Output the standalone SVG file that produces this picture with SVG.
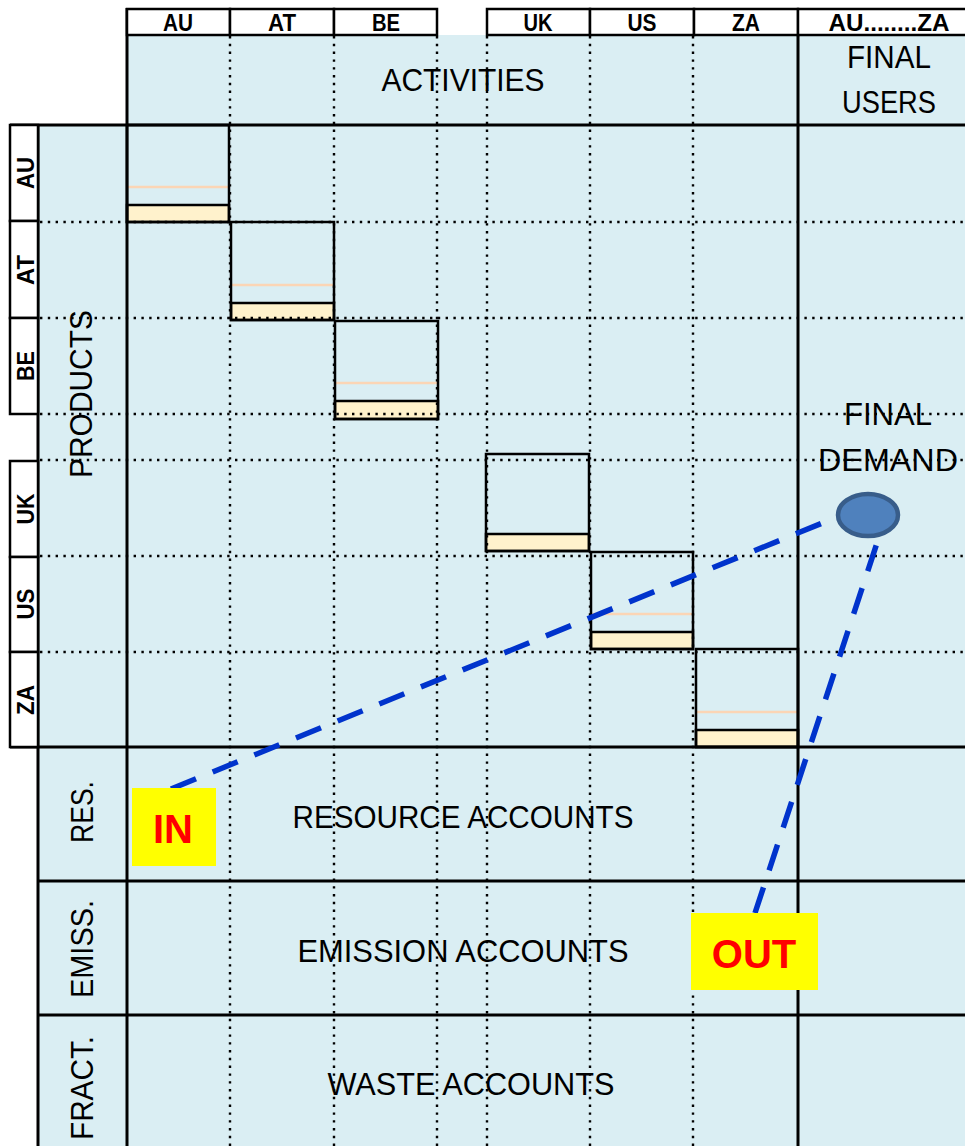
<svg xmlns="http://www.w3.org/2000/svg" width="965" height="1146" viewBox="0 0 965 1146">
<style>
.bg{fill:#daeef3}
.hdr{fill:#ffffff;stroke:#000;stroke-width:2.5}
.thick{stroke:#000;stroke-width:3;fill:none}
.dot{stroke:#000;stroke-width:2.4;stroke-dasharray:2.4 5.4;fill:none}
.blk{fill:none;stroke:#000;stroke-width:2.5}
.bar{fill:#fff2cc;stroke:#000;stroke-width:2.5}
.peach{stroke:#fbd5b5;stroke-width:2.5}
.hl{font-family:"Liberation Sans",Arial,sans-serif;font-weight:bold;font-size:24px;text-anchor:middle;fill:#000}
.big{font-family:"Liberation Sans",Arial,sans-serif;font-size:31px;text-anchor:middle;fill:#000}
.io{font-family:"Liberation Sans",Arial,sans-serif;font-weight:bold;font-size:40px;text-anchor:middle;fill:#ff0000}
.flow{stroke:#0033cc;stroke-width:5.5;stroke-dasharray:27 18;fill:none}
</style>

<!-- background -->
<path class="bg" d="M127,35 H965 V1146 H38 V125 H127 Z"/>

<!-- diagonal blocks (drawn under dotted grid) -->
<g id="block-AU">
<rect class="bar" x="127" y="205" width="102" height="17"/>
<line class="peach" x1="127" y1="187" x2="229" y2="187"/>
<rect class="blk" x="127" y="125" width="102" height="97"/>
</g>
<g id="block-AT">
<rect class="bar" x="231" y="303" width="103" height="17"/>
<line class="peach" x1="231" y1="285" x2="334" y2="285"/>
<rect class="blk" x="231" y="222" width="103" height="98"/>
</g>
<g id="block-BE">
<rect class="bar" x="335" y="401" width="103" height="18"/>
<line class="peach" x1="335" y1="383" x2="438" y2="383"/>
<rect class="blk" x="335" y="321" width="103" height="98"/>
</g>
<g id="block-UK">
<rect class="bar" x="486" y="534" width="103" height="17"/>
<rect class="blk" x="486" y="454" width="103" height="97"/>
</g>
<g id="block-US">
<rect class="bar" x="591" y="632" width="102" height="17"/>
<line class="peach" x1="591" y1="614" x2="693" y2="614"/>
<rect class="blk" x="591" y="552" width="102" height="97"/>
</g>
<g id="block-ZA">
<rect class="bar" x="696" y="730" width="102" height="17"/>
<line class="peach" x1="696" y1="712" x2="798" y2="712"/>
<rect class="blk" x="696" y="649" width="102" height="98"/>
</g>

<!-- dotted grid -->
<g id="grid-dotted">
<line class="dot" x1="230" y1="36" x2="230" y2="1146"/>
<line class="dot" x1="334" y1="36" x2="334" y2="1146"/>
<line class="dot" x1="437" y1="36" x2="437" y2="1146"/>
<line class="dot" x1="487" y1="36" x2="487" y2="1146"/>
<line class="dot" x1="590" y1="36" x2="590" y2="1146"/>
<line class="dot" x1="693" y1="36" x2="693" y2="1146"/>
<line class="dot" x1="40" y1="222" x2="965" y2="222"/>
<line class="dot" x1="40" y1="318" x2="965" y2="318"/>
<line class="dot" x1="40" y1="414" x2="965" y2="414"/>
<line class="dot" x1="40" y1="460" x2="965" y2="460"/>
<line class="dot" x1="40" y1="556" x2="965" y2="556"/>
<line class="dot" x1="40" y1="652" x2="965" y2="652"/>
</g>

<!-- thick structural lines -->
<g id="grid-solid">
<line class="thick" x1="127" y1="8" x2="127" y2="1146"/>
<line class="thick" x1="798" y1="8" x2="798" y2="1146"/>
<line class="thick" x1="38" y1="125" x2="38" y2="1146"/>
<line class="thick" x1="10" y1="125" x2="965" y2="125"/>
<line class="thick" x1="10" y1="747" x2="965" y2="747"/>
<line class="thick" x1="38" y1="881" x2="965" y2="881"/>
<line class="thick" x1="38" y1="1015" x2="965" y2="1015"/>
</g>

<!-- column headers -->
<g id="col-AU"><rect class="hdr" x="127" y="9" width="103" height="26"/><text class="hl" x="178" y="31" textLength="30" lengthAdjust="spacingAndGlyphs">AU</text></g>
<g id="col-AT"><rect class="hdr" x="230" y="9" width="104" height="26"/><text class="hl" x="282" y="31" textLength="28" lengthAdjust="spacingAndGlyphs">AT</text></g>
<g id="col-BE"><rect class="hdr" x="334" y="9" width="103" height="26"/><text class="hl" x="386" y="31" textLength="28" lengthAdjust="spacingAndGlyphs">BE</text></g>
<g id="col-UK"><rect class="hdr" x="487" y="9" width="103" height="26"/><text class="hl" x="538" y="31" textLength="29" lengthAdjust="spacingAndGlyphs">UK</text></g>
<g id="col-US"><rect class="hdr" x="590" y="9" width="104" height="26"/><text class="hl" x="642" y="31" textLength="29" lengthAdjust="spacingAndGlyphs">US</text></g>
<g id="col-ZA"><rect class="hdr" x="694" y="9" width="104" height="26"/><text class="hl" x="746" y="31" textLength="28" lengthAdjust="spacingAndGlyphs">ZA</text></g>
<g id="col-final"><rect class="hdr" x="798" y="9" width="170" height="26"/><text class="hl" x="889" y="31" textLength="121" lengthAdjust="spacingAndGlyphs">AU........ZA</text></g>

<!-- row labels (countries) -->
<g id="row-AU"><rect class="hdr" x="10" y="125" width="28" height="96"/><text class="hl" transform="translate(25,173) rotate(-90)" y="8.5" textLength="32" lengthAdjust="spacingAndGlyphs">AU</text></g>
<g id="row-AT"><rect class="hdr" x="10" y="221" width="28" height="97"/><text class="hl" transform="translate(25,270) rotate(-90)" y="8.5" textLength="30" lengthAdjust="spacingAndGlyphs">AT</text></g>
<g id="row-BE"><rect class="hdr" x="10" y="318" width="28" height="96"/><text class="hl" transform="translate(25,366) rotate(-90)" y="8.5" textLength="30" lengthAdjust="spacingAndGlyphs">BE</text></g>
<g id="row-UK"><rect class="hdr" x="10" y="461" width="28" height="96"/><text class="hl" transform="translate(25,509) rotate(-90)" y="8.5" textLength="31" lengthAdjust="spacingAndGlyphs">UK</text></g>
<g id="row-US"><rect class="hdr" x="10" y="557" width="28" height="95"/><text class="hl" transform="translate(25,604) rotate(-90)" y="8.5" textLength="31" lengthAdjust="spacingAndGlyphs">US</text></g>
<g id="row-ZA"><rect class="hdr" x="10" y="652" width="28" height="95"/><text class="hl" transform="translate(25,700) rotate(-90)" y="8.5" textLength="30" lengthAdjust="spacingAndGlyphs">ZA</text></g>

<!-- section labels -->
<g id="activities"><text class="big" x="463" y="91" textLength="163" lengthAdjust="spacingAndGlyphs">ACTIVITIES</text></g>
<g id="final-users"><text class="big" x="889" y="68" textLength="84" lengthAdjust="spacingAndGlyphs">FINAL</text><text class="big" x="889" y="113" textLength="94" lengthAdjust="spacingAndGlyphs">USERS</text></g>
<g id="products"><text class="big" transform="translate(81,394) rotate(-90)" y="11" textLength="168" lengthAdjust="spacingAndGlyphs">PRODUCTS</text></g>
<g id="res"><text class="big" transform="translate(82,812) rotate(-90)" y="11" textLength="62" lengthAdjust="spacingAndGlyphs">RES.</text></g>
<g id="emiss"><text class="big" transform="translate(82,949) rotate(-90)" y="11" textLength="98" lengthAdjust="spacingAndGlyphs">EMISS.</text></g>
<g id="fract"><text class="big" transform="translate(82,1088) rotate(-90)" y="11" textLength="104" lengthAdjust="spacingAndGlyphs">FRACT.</text></g>
<g id="resource-accounts"><text class="big" x="463" y="828" textLength="341" lengthAdjust="spacingAndGlyphs">RESOURCE ACCOUNTS</text></g>
<g id="emission-accounts"><text class="big" x="463" y="962" textLength="331" lengthAdjust="spacingAndGlyphs">EMISSION ACCOUNTS</text></g>
<g id="waste-accounts"><text class="big" x="471" y="1095" textLength="287" lengthAdjust="spacingAndGlyphs">WASTE ACCOUNTS</text></g>
<g id="final-demand-label"><text class="big" x="888" y="425" textLength="88" lengthAdjust="spacingAndGlyphs">FINAL</text><text class="big" x="888" y="471" textLength="140" lengthAdjust="spacingAndGlyphs">DEMAND</text></g>

<!-- connectors -->
<g id="connectors">
<line class="flow" x1="171" y1="789" x2="837" y2="517"/>
<line class="flow" x1="755" y1="913" x2="879" y2="537"/>
</g>

<!-- final demand node -->
<g id="final-demand">
<ellipse cx="868" cy="515" rx="30" ry="21" fill="#4f81bd" stroke="#385d8a" stroke-width="4.5"/>
</g>

<!-- IN / OUT -->
<g id="in-node"><rect x="132" y="788" width="84" height="78" fill="#ffff00"/><text class="io" x="173" y="843">IN</text></g>
<g id="out-node"><rect x="691" y="913" width="127" height="77" fill="#ffff00"/><text class="io" x="754" y="968">OUT</text></g>
</svg>
